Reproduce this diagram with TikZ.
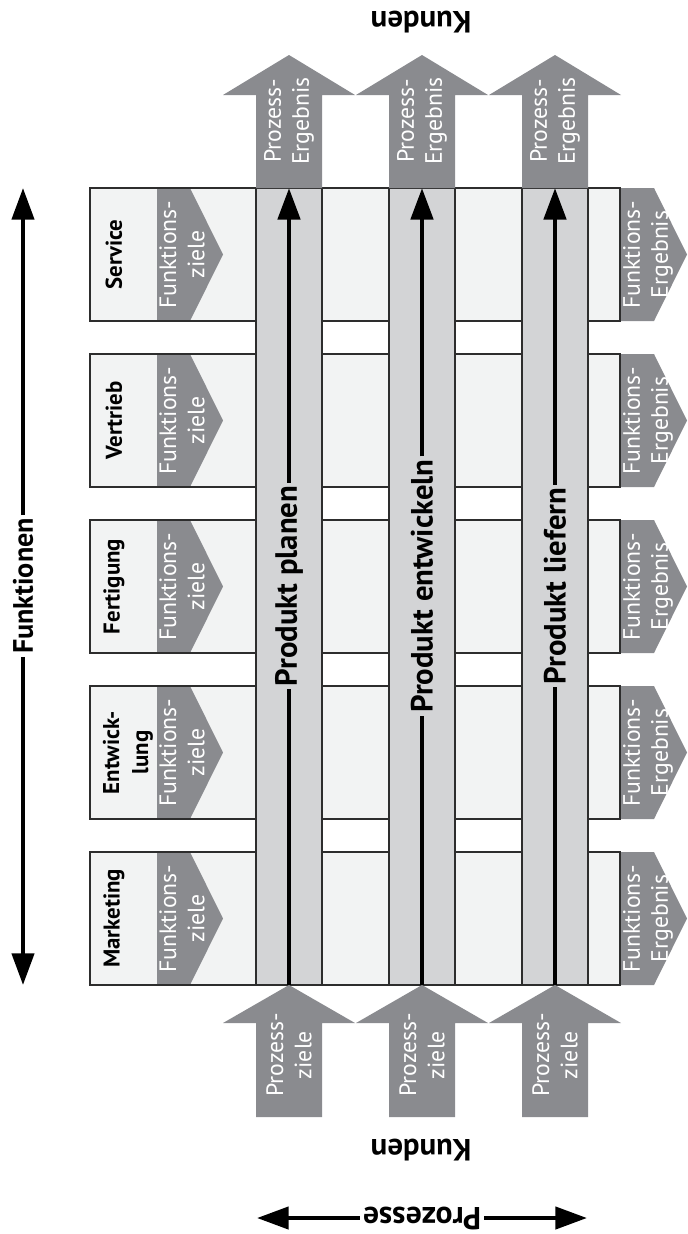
\documentclass[tikz,border=0pt]{standalone}
\usepackage{fontspec}
\setmainfont{PT Sans}
\usepackage{tikz}
\usetikzlibrary{arrows.meta}
\definecolor{dunkelgrau}{RGB}{138,139,143}
\definecolor{streifgrau}{RGB}{211,212,214}
\definecolor{zeilgrau}{RGB}{242,243,243}
\definecolor{linie}{RGB}{45,45,45}
\tikzset{
	rahmen/.style = { draw = linie, line width = 0.75pt },
	weiss/.style = { text = white, align = center, rotate = 90, inner sep = 0pt,
		font = \fontsize{13.5}{16}\selectfont },
	fett/.style = { align = center, rotate = 90, inner sep = 0pt,
		font = \fontsize{13}{16.5}\selectfont\bfseries },
	gross/.style = { inner sep = 1.5pt, font = \fontsize{17.5}{20}\selectfont\bfseries },
	spitze/.style = { -{Triangle[length = 18pt, width = 12.5pt]} },
	prozess/.style = { line width = 2.8pt, black },
	achse/.style = { line width = 2.5pt, black },
}
\newcommand{\funktion}[4]{
	\fill [ zeilgrau ] (90,#1) rectangle (620,#1+133);
	\fill [ dunkelgrau ] (157,#1) -- (190,#1) -- (223,#1+66.5)
		-- (190,#1+133) -- (157,#1+133) -- cycle;
	\fill [ dunkelgrau ] (620,#1) -- (654,#1) -- (687,#1+66.5)
		-- (654,#1+133) -- (620,#1+133) -- cycle;
	\draw [ rahmen ] (90,#1) rectangle (620,#1+133);
	\node [ fett ] (#2) at (#3,#1+66.5) {#4};
	\node [ weiss ] (#2-ziele) at (182,#1+66.5) {Funktions-\\ziele};
	\node [ weiss ] (#2-ergebnis) at (648,#1+66.5) {Funktions-\\Ergebnis};
}
\newcommand{\prozess}[3]{
	\draw [ rahmen, fill = streifgrau ] (#1-33,188) rectangle (#1+33,985);
	\fill [ dunkelgrau ] (#1-33,188) -- (#1-33,95) -- (#1-66,95) -- (#1,55)
		-- (#1+66,95) -- (#1+33,95) -- (#1+33,188) -- cycle;
	\fill [ dunkelgrau ] (#1-33,1117) -- (#1-33,1023) -- (#1-66,1023) -- (#1,985)
		-- (#1+66,1023) -- (#1+33,1023) -- (#1+33,1117) -- cycle;
	\node [ weiss ] (#2-erg) at (#1,121) {Prozess-\\Ergebnis};
	\node [ weiss ] (#2-ziel) at (#1,1055) {Prozess-\\ziele};
	\coordinate (#2-start) at (#1,985);
	\coordinate (#2-ende) at (#1,188);
	\node [ gross, rotate = 90 ] (#2) at (#1,586) {#3};
	\draw [ prozess ] (#2-start) -- (#2);
	\draw [ prozess, spitze ] (#2) -- (#2-ende);
}

\begin{document}
\begin{tikzpicture}[ x = 0.02cm, y = -0.02cm ]
	\useasboundingbox (0,0) rectangle (687,1234);
	\funktion{188}{service}{114}{Service}
	\funktion{354}{vertrieb}{114}{Vertrieb}
	\funktion{520}{fertigung}{114}{Fertigung}
	\funktion{686}{entwicklung}{128}{Entwick-\\lung}
	\funktion{852}{marketing}{114}{Marketing}
	\prozess{289}{planen}{Produkt planen}
	\prozess{422}{entwickeln}{Produkt entwickeln}
	\prozess{555}{liefern}{Produkt liefern}
	\node [ gross, rotate = 180 ] (kunden1) at (421,22) {Kunden};
	\node [ gross, rotate = 180 ] (kunden2) at (421,1150) {Kunden};
	\node [ gross, font = \fontsize{16}{19}\selectfont\bfseries, rotate = 90 ]
		(funktionen) at (23,586) {Funktionen};
	\coordinate (f-oben) at (23,188);
	\coordinate (f-unten) at (23,985);
	\draw [ achse, spitze ] (funktionen) -- (f-oben);
	\draw [ achse, spitze ] (funktionen) -- (f-unten);
	\node [ gross, font = \fontsize{18}{21}\selectfont\bfseries, rotate = 180 ]
		(prozesse) at (422,1218) {Prozesse};
	\coordinate (p-links) at (257,1218);
	\coordinate (p-rechts) at (587,1218);
	\draw [ achse, spitze ] (prozesse) -- (p-links);
	\draw [ achse, spitze ] (prozesse) -- (p-rechts);
\end{tikzpicture}
\end{document}
